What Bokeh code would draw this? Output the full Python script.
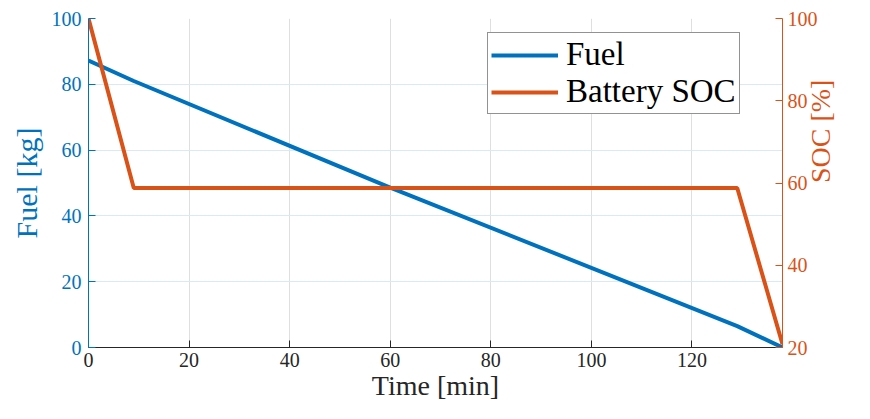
import math
from bokeh.plotting import figure
from bokeh.models import LinearAxis, Range1d, FixedTicker, Legend, LegendItem
from bokeh.embed import file_html
from bokeh.resources import INLINE

# ---- data ----
time_fuel = [0, 9, 60, 129, 138]
fuel_kg = [87.2, 81.0, 48.6, 6.5, 0.0]
time_soc = [0, 9, 129, 138]
soc_pct = [100.0, 58.8, 58.8, 20.8]
x_ticks = [0, 20, 40, 60, 80, 100, 120]
fuel_ticks = [0, 20, 40, 60, 80, 100]
soc_ticks = [20, 40, 60, 80, 100]

BLUE = "#0072BD"
ORANGE = "#D95319"
DARK = "#262626"
FONT = "Liberation Serif"

p = figure(width=854, height=403,
           min_border_left=88, min_border_right=62,
           min_border_top=18, min_border_bottom=51,
           x_range=Range1d(0, 138), y_range=Range1d(0, 100),
           output_backend="svg", toolbar_location=None)
p.extra_y_ranges = {"soc": Range1d(20, 100)}
p.outline_line_color = None
p.background_fill_color = "white"
p.border_fill_color = "white"

r1 = p.line(time_fuel, fuel_kg, color=BLUE, line_width=4)
r2 = p.line(time_soc, soc_pct, color=ORANGE, line_width=4, y_range_name="soc")

# bottom axis
xa = p.xaxis[0]
xa.ticker = FixedTicker(ticks=x_ticks)
xa.axis_label = "Time [min]"
xa.axis_line_color = DARK
xa.major_tick_line_color = DARK
xa.major_label_text_color = DARK
xa.axis_label_text_color = DARK
xa.major_tick_in = 7
xa.major_tick_out = 0
xa.minor_tick_line_color = None
xa.major_label_standoff = 5
xa.axis_label_standoff = 0

# left axis
ya = p.yaxis[0]
ya.ticker = FixedTicker(ticks=fuel_ticks)
ya.axis_label = "Fuel [kg]"
ya.axis_line_color = BLUE
ya.major_tick_line_color = BLUE
ya.major_label_text_color = BLUE
ya.axis_label_text_color = BLUE
ya.major_tick_in = 7
ya.major_tick_out = 0
ya.minor_tick_line_color = None
ya.major_label_standoff = 7
ya.axis_label_standoff = 6

# right axis
ra = LinearAxis(y_range_name="soc", ticker=FixedTicker(ticks=soc_ticks),
                axis_label="SOC [%]")
ra.axis_line_color = ORANGE
ra.major_tick_line_color = ORANGE
ra.major_label_text_color = ORANGE
ra.axis_label_text_color = ORANGE
ra.major_tick_in = 7
ra.major_tick_out = 0
ra.minor_tick_line_color = None
ra.major_label_standoff = 5
ra.axis_label_standoff = 0
ra.axis_label_orientation = math.pi / 2
p.add_layout(ra, "right")

for ax in [xa, ya, ra]:
    ax.major_label_text_font = FONT
    ax.major_label_text_font_size = "20px"
    ax.axis_label_text_font = FONT
    ax.axis_label_text_font_style = "normal"
    ax.axis_line_width = 1
ya.axis_label_text_font_size = "30px"
xa.axis_label_text_font_size = "28px"
ra.axis_label_text_font_size = "28px"

p.xgrid.ticker = FixedTicker(ticks=x_ticks)
p.xgrid.grid_line_color = "#dfdfdf"
p.ygrid.ticker = FixedTicker(ticks=fuel_ticks)
p.ygrid.grid_line_color = "#d9eaf5"

legend = Legend(items=[LegendItem(label="Fuel", renderers=[r1]),
                       LegendItem(label="Battery SOC", renderers=[r2])],
                location=(399, 233))
legend.margin = 0
legend.padding = 3
legend.spacing = 0
legend.label_height = 30
legend.glyph_height = 30
legend.glyph_width = 67
legend.label_standoff = 8
legend.label_text_font = FONT
legend.label_text_font_size = "33px"
legend.label_text_color = "black"
legend.border_line_color = DARK
legend.border_line_width = 1
legend.background_fill_color = "white"
legend.background_fill_alpha = 1
p.add_layout(legend)

open("out.html", "w").write(file_html(p, INLINE))
